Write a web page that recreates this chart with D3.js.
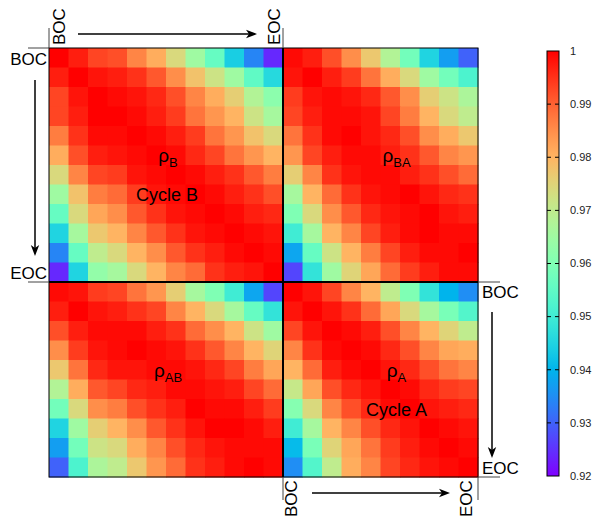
<!DOCTYPE html>
<html>
<head>
<meta charset="utf-8">
<script src="https://cdn.jsdelivr.net/npm/d3@7"></script>
<style>
  body { margin: 0; background: #fff; }
  svg { display: block; font-family: "Liberation Sans", Arial, sans-serif; }
</style>
</head>
<body>
<svg id="chart" width="593" height="521"></svg>
<script>
// correlation within cycle B (12 x 12)
var rhoB = [
  [1.000, 0.997, 0.993, 0.992, 0.986, 0.981, 0.974, 0.965, 0.956, 0.944, 0.934, 0.924],
  [0.997, 1.000, 0.998, 0.997, 0.995, 0.991, 0.985, 0.978, 0.972, 0.965, 0.955, 0.946],
  [0.993, 0.998, 1.000, 0.999, 0.998, 0.996, 0.992, 0.986, 0.981, 0.976, 0.968, 0.962],
  [0.993, 0.997, 1.000, 1.000, 0.999, 0.997, 0.994, 0.988, 0.984, 0.980, 0.972, 0.966],
  [0.987, 0.995, 0.999, 0.999, 1.000, 0.999, 0.997, 0.994, 0.988, 0.984, 0.978, 0.974],
  [0.981, 0.992, 0.997, 0.998, 0.999, 1.000, 0.999, 0.996, 0.993, 0.988, 0.984, 0.980],
  [0.974, 0.986, 0.993, 0.994, 0.998, 0.999, 1.000, 0.999, 0.997, 0.995, 0.991, 0.987],
  [0.965, 0.978, 0.987, 0.989, 0.994, 0.998, 0.999, 1.000, 0.999, 0.997, 0.995, 0.992],
  [0.956, 0.974, 0.982, 0.985, 0.991, 0.995, 0.998, 0.999, 1.000, 0.999, 0.997, 0.996],
  [0.945, 0.966, 0.977, 0.980, 0.986, 0.991, 0.995, 0.998, 0.999, 1.000, 0.999, 0.998],
  [0.934, 0.956, 0.970, 0.974, 0.980, 0.985, 0.991, 0.995, 0.997, 0.999, 1.000, 0.999],
  [0.924, 0.945, 0.963, 0.966, 0.974, 0.980, 0.986, 0.989, 0.995, 0.997, 0.998, 1.000]
];

// correlation within cycle A (10 x 10)
var rhoA = [
  [1.000, 0.998, 0.993, 0.986, 0.980, 0.970, 0.960, 0.948, 0.940, 0.935],
  [0.998, 1.000, 0.998, 0.995, 0.989, 0.982, 0.974, 0.966, 0.959, 0.953],
  [0.993, 0.998, 1.000, 0.999, 0.997, 0.992, 0.986, 0.980, 0.975, 0.970],
  [0.986, 0.995, 0.999, 1.000, 0.999, 0.996, 0.992, 0.986, 0.982, 0.981],
  [0.980, 0.989, 0.997, 0.999, 1.000, 0.998, 0.996, 0.992, 0.988, 0.986],
  [0.971, 0.982, 0.992, 0.996, 0.998, 1.000, 0.999, 0.996, 0.994, 0.993],
  [0.961, 0.974, 0.986, 0.992, 0.996, 0.999, 1.000, 0.998, 0.997, 0.996],
  [0.950, 0.966, 0.980, 0.986, 0.992, 0.996, 0.998, 1.000, 0.999, 0.998],
  [0.941, 0.959, 0.975, 0.982, 0.988, 0.994, 0.997, 0.999, 1.000, 0.999],
  [0.935, 0.953, 0.970, 0.981, 0.986, 0.993, 0.996, 0.998, 0.999, 1.000]
];

// cross correlation, rows = cycle B, columns = cycle A (12 x 10)
var rhoBA = [
  [0.999, 0.997, 0.992, 0.985, 0.977, 0.968, 0.958, 0.945, 0.937, 0.930],
  [0.998, 1.000, 0.997, 0.994, 0.988, 0.981, 0.974, 0.965, 0.958, 0.952],
  [0.994, 0.998, 0.999, 0.998, 0.996, 0.991, 0.985, 0.976, 0.972, 0.967],
  [0.993, 0.997, 0.999, 0.999, 0.998, 0.993, 0.987, 0.980, 0.974, 0.970],
  [0.988, 0.995, 0.999, 1.000, 0.998, 0.996, 0.992, 0.985, 0.981, 0.977],
  [0.984, 0.993, 0.997, 0.999, 0.999, 0.997, 0.995, 0.991, 0.986, 0.984],
  [0.976, 0.986, 0.995, 0.998, 0.999, 0.999, 0.997, 0.995, 0.992, 0.989],
  [0.966, 0.980, 0.989, 0.995, 0.998, 0.999, 1.000, 0.998, 0.996, 0.995],
  [0.960, 0.974, 0.985, 0.991, 0.996, 0.998, 0.999, 1.000, 0.998, 0.997],
  [0.950, 0.966, 0.980, 0.986, 0.993, 0.997, 0.999, 1.000, 0.999, 0.999],
  [0.938, 0.956, 0.972, 0.980, 0.987, 0.993, 0.997, 0.999, 0.999, 1.000],
  [0.927, 0.948, 0.965, 0.975, 0.982, 0.989, 0.994, 0.997, 0.999, 0.999]
];

var colorTicks = [1, 0.99, 0.98, 0.97, 0.96, 0.95, 0.94, 0.93, 0.92];
var colorTickLabels = ["1", "0.99", "0.98", "0.97", "0.96", "0.95", "0.94", "0.93", "0.92"];
var blockLabels = [
  { main: "\u03c1", sub: "B", row: "B", col: "B" },
  { main: "\u03c1", sub: "BA", row: "B", col: "A" },
  { main: "\u03c1", sub: "AB", row: "A", col: "B" },
  { main: "\u03c1", sub: "A", row: "A", col: "A" }
];
var cycleLabels = ["Cycle B", "Cycle A"];

/* Setup */

var nB = rhoB.length,
    nA = rhoA.length;

var svg = d3.select('#chart');

var keys = d3.range(nB).map(function (i) { return 'B' + i; })
  .concat(d3.range(nA).map(function (i) { return 'A' + i; }));

var x = d3.scaleBand().domain(keys).range([49, 478]).padding(0);
var y = d3.scaleBand().domain(keys).range([48, 477]).padding(0);

// gnuplot / matplotlib "rainbow" map
function rainbow(t) {
  var r = Math.abs(2 * t - 0.5),
      g = Math.sin(Math.PI * t),
      b = Math.cos(Math.PI * t / 2);
  function c(v) { return Math.round(255 * Math.max(0, Math.min(1, v))); }
  return d3.rgb(c(r), c(g), c(b)).toString();
}
var color = d3.scaleSequential(rainbow).domain([0.92, 1]).clamp(true);

/* Build full matrix */

var cells = [];
keys.forEach(function (rk, i) {
  keys.forEach(function (ck, j) {
    var v;
    if (i < nB && j < nB) v = rhoB[i][j];
    else if (i < nB) v = rhoBA[i][j - nB];
    else if (j < nB) v = rhoBA[j][i - nB];
    else v = rhoA[i - nB][j - nB];
    cells.push({ row: rk, col: ck, value: v });
  });
});

svg.append('g').selectAll('rect')
  .data(cells)
  .enter().append('rect')
  .attr('x', function (d) { return x(d.col); })
  .attr('y', function (d) { return y(d.row); })
  .attr('width', x.bandwidth() + 0.5)
  .attr('height', y.bandwidth() + 0.5)
  .attr('fill', function (d) { return color(d.value); });

/* Frame and block dividers */

var x0 = x.range()[0], x1 = x.range()[1],
    y0 = y.range()[0], y1 = y.range()[1],
    xs = x('A0'), ys = y('A0');

svg.append('rect')
  .attr('x', x0).attr('y', y0)
  .attr('width', x1 - x0).attr('height', y1 - y0)
  .attr('fill', 'none').attr('stroke', '#000').attr('stroke-width', 1);

svg.append('line').attr('x1', xs).attr('x2', xs).attr('y1', y0).attr('y2', y1)
  .attr('stroke', '#000').attr('stroke-width', 2);
svg.append('line').attr('x1', x0).attr('x2', x1).attr('y1', ys).attr('y2', ys)
  .attr('stroke', '#000').attr('stroke-width', 2);

// thin extension lines next to BOC / EOC labels
var ext = [
  [x0, y0 - 20, x0, y0], [xs, y0 - 20, xs, y0],
  [x0 - 21, y0, x0, y0], [x0 - 21, ys, x0, ys],
  [x1, ys, x1 + 22, ys], [x1, y1, x1 + 22, y1],
  [xs, y1, xs, y1 + 23], [x1, y1, x1, y1 + 23]
];
svg.append('g').selectAll('line')
  .data(ext)
  .enter().append('line')
  .attr('x1', function (d) { return d[0]; })
  .attr('y1', function (d) { return d[1]; })
  .attr('x2', function (d) { return d[2]; })
  .attr('y2', function (d) { return d[3]; })
  .attr('stroke', '#444').attr('stroke-width', 1);

/* BOC / EOC labels */

var lbl = svg.append('g').style('font-size', '17px').attr('fill', '#000');

function vtext(tx, ty, s) {
  lbl.append('text').attr('transform', 'translate(' + [tx, ty] + ') rotate(-90)').text(s);
}
vtext(x0 + 16, y0 - 3, 'BOC');
vtext(xs - 3, y0 - 3, 'EOC');
vtext(xs + 14, y1 + 40, 'BOC');
vtext(x1 - 6, y1 + 40, 'EOC');

lbl.append('text').attr('x', x0 - 2).attr('y', y0 + 17).attr('text-anchor', 'end').text('BOC');
lbl.append('text').attr('x', x0 - 2).attr('y', ys - 3).attr('text-anchor', 'end').text('EOC');
lbl.append('text').attr('x', x1 + 4).attr('y', ys + 16).text('BOC');
lbl.append('text').attr('x', x1 + 4).attr('y', y1 - 3).text('EOC');

/* Arrows */

function arrow(ax, ay, bx, by) {
  var ang = Math.atan2(by - ay, bx - ax),
      L = 11, W = 4.2, back = 8;
  var ca = Math.cos(ang), sa = Math.sin(ang);
  function p(u, v) { return [bx - u * ca - v * sa, by - u * sa + v * ca]; }
  svg.append('line')
    .attr('x1', ax).attr('y1', ay)
    .attr('x2', p(back, 0)[0]).attr('y2', p(back, 0)[1])
    .attr('stroke', '#000').attr('stroke-width', 1.5);
  svg.append('path')
    .attr('d', 'M' + [bx, by] + 'L' + p(L, W) + 'L' + p(back, 0) + 'L' + p(L, -W) + 'Z')
    .attr('fill', '#000');
}
arrow(78, 34, 257, 34);
arrow(35, 80, 35, 256);
arrow(312, 493, 450, 493);
arrow(492, 312, 492, 458);

/* Block labels */

var cx = { B: (x0 + xs) / 2, A: (xs + x1) / 2 },
    cy = { B: (y0 + ys) / 2, A: (ys + y1) / 2 };

blockLabels.forEach(function (d) {
  var t = svg.append('text')
    .attr('x', cx[d.col] + (d.col === 'B' ? 2 : 16))
    .attr('y', cy[d.row] + (d.row === 'B' ? -3 : -3))
    .attr('text-anchor', 'middle')
    .style('font-size', '19px');
  t.append('tspan').text(d.main);
  t.append('tspan').attr('dy', 5).style('font-size', '13px').text(d.sub);
});

svg.append('text').attr('x', cx.B + 1).attr('y', cy.B + 36)
  .attr('text-anchor', 'middle').style('font-size', '18px').text(cycleLabels[0]);
svg.append('text').attr('x', cx.A + 16).attr('y', cy.A + 36)
  .attr('text-anchor', 'middle').style('font-size', '18px').text(cycleLabels[1]);

/* Colorbar */

var cbX = 547, cbW = 12;
var cy2 = d3.scaleLinear().domain([0.92, 1]).range([476, 51]);

var defs = svg.append('defs');
var grad = defs.append('linearGradient').attr('id', 'cbar')
  .attr('x1', 0).attr('y1', 1).attr('x2', 0).attr('y2', 0);
grad.selectAll('stop')
  .data(d3.range(0, 1.0001, 0.05))
  .enter().append('stop')
  .attr('offset', function (d) { return d; })
  .attr('stop-color', function (d) { return rainbow(d); });

svg.append('rect')
  .attr('x', cbX).attr('y', cy2(1))
  .attr('width', cbW).attr('height', cy2(0.92) - cy2(1))
  .attr('fill', 'url(#cbar)').attr('stroke', '#000').attr('stroke-width', 1);

var cb = svg.append('g');
colorTicks.forEach(function (v, i) {
  if (v !== 1 && v !== 0.92) {
    cb.append('line').attr('x1', cbX).attr('x2', cbX + 4)
      .attr('y1', cy2(v)).attr('y2', cy2(v)).attr('stroke', '#000');
    cb.append('line').attr('x1', cbX + cbW - 4).attr('x2', cbX + cbW)
      .attr('y1', cy2(v)).attr('y2', cy2(v)).attr('stroke', '#000');
  }
  cb.append('text').attr('x', 570).attr('y', cy2(v)).attr('dy', '0.35em')
    .style('font-size', '11px').attr('fill', '#222').text(colorTickLabels[i]);
});
</script>
</body>
</html>
